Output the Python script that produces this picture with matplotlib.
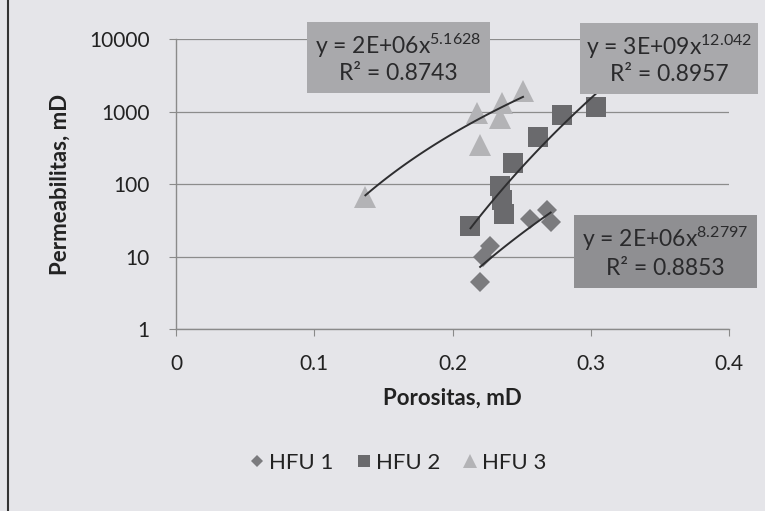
import matplotlib
matplotlib.use('Agg')
import matplotlib.pyplot as plt
from matplotlib.patches import Rectangle
from matplotlib.lines import Line2D
import numpy as np

plt.rcParams['font.family'] = ['Lato', 'DejaVu Sans']
plt.rcParams['mathtext.fontset'] = 'custom'
plt.rcParams['mathtext.rm'] = 'Lato'
plt.rcParams['mathtext.it'] = 'Lato:italic'
plt.rcParams['mathtext.bf'] = 'Lato:bold'

# ---- data ----
hfu1_x = [0.220, 0.222, 0.227, 0.256, 0.268, 0.271]
hfu1_y = [4.5, 9.8, 14.0, 33.0, 44.0, 30.0]
hfu2_x = [0.213, 0.2345, 0.236, 0.237, 0.244, 0.2615, 0.279, 0.304]
hfu2_y = [26.6, 94.0, 60.0, 38.0, 196.0, 450.0, 890.0, 1140.0]
hfu3_x = [0.137, 0.218, 0.220, 0.234, 0.2355, 0.251]
hfu3_y = [67.0, 950.0, 340.0, 805.0, 1320.0, 1940.0]

trend_coef = {'HFU 1': 2e6, 'HFU 2': 3e9, 'HFU 3': 2e6}
trend_exp = {'HFU 1': 8.2797, 'HFU 2': 12.042, 'HFU 3': 5.1628}
trend_r2 = {'HFU 1': '0.8853', 'HFU 2': '0.8957', 'HFU 3': '0.8743'}
trend_lbl_coef = {'HFU 1': '2E+06', 'HFU 2': '3E+09', 'HFU 3': '2E+06'}
trend_lbl_exp = {'HFU 1': '8.2797', 'HFU 2': '12.042', 'HFU 3': '5.1628'}

x_ticks = [0, 0.1, 0.2, 0.3, 0.4]
x_tick_labels = ['0', '0.1', '0.2', '0.3', '0.4']
y_ticks = [1, 10, 100, 1000, 10000]
y_tick_labels = ['1', '10', '100', '1000', '10000']

W, H = 765, 511
BG = '#e5e5e9'
fig = plt.figure(figsize=(W / 100, H / 100), dpi=100, facecolor=BG)

def fx(px):
    return px / W

def fy(py):
    return 1 - py / H

ax = fig.add_axes([fx(176), fy(329), (729 - 176) / W, (329 - 39) / H])
ax.set_facecolor(BG)
ax.patch.set_alpha(0)
ax.set_yscale('log')
ax.set_xlim(0, 0.4)
ax.set_ylim(1, 10000)
ax.set_xticks(x_ticks)
ax.set_xticklabels(x_tick_labels)
ax.set_yticks(y_ticks)
ax.set_yticklabels(y_tick_labels)
ax.minorticks_off()
ax.yaxis.set_minor_locator(matplotlib.ticker.NullLocator())
for s in ['top', 'right']:
    ax.spines[s].set_visible(False)
for s in ['left', 'bottom']:
    ax.spines[s].set_color('#8a8a8a')
    ax.spines[s].set_linewidth(1.0)
ax.grid(axis='y', color='#8c8c8c', linewidth=0.9)
ax.set_axisbelow(True)
ax.tick_params(axis='both', direction='out', length=5, color='#8a8a8a',
               labelsize=15, labelcolor='#222222')
ax.tick_params(axis='x', pad=13)
ax.tick_params(axis='y', pad=14)

series = [
    ('HFU 1', hfu1_x, hfu1_y, 'D', 10.5, '#7b7b7e'),
    ('HFU 2', hfu2_x, hfu2_y, 's', 14.5, '#6a6a6d'),
    ('HFU 3', hfu3_x, hfu3_y, '^', 16, '#b3b3b6'),
]
for name, xs, ys, mk, ms, col in series:
    ax.plot(xs, ys, linestyle='none', marker=mk, markersize=ms, color=col,
            markeredgewidth=0, zorder=3)
for name, xs, ys, mk, ms, col in series:
    xx = np.linspace(min(xs), max(xs), 100)
    yy = trend_coef[name] * xx ** trend_exp[name]
    ax.plot(xx, yy, color='#2e2e30', linewidth=1.4, zorder=4)

# equation boxes (pixel boxes)
boxes = {
    'HFU 3': ((307, 22, 490, 93), '#a9a9ac'),
    'HFU 2': ((580, 23, 758, 94), '#a9a9ac'),
    'HFU 1': ((574, 215, 757, 288), '#8f8f92'),
}
for name, ((x0, y0, x1, y1), fc) in boxes.items():
    fig.add_artist(Rectangle((fx(x0), fy(y1)), (x1 - x0) / W, (y1 - y0) / H,
                             transform=fig.transFigure, facecolor=fc,
                             edgecolor='none', zorder=5))
    cx = (x0 + x1) / 2
    h = y1 - y0
    fig.text(fx(cx), fy(y0 + h * 0.33),
             'y = ' + trend_lbl_coef[name] + r'x$^{' + trend_lbl_exp[name] + '}$',
             ha='center', va='center', fontsize=16.5, color='#2a2a2c', zorder=6)
    fig.text(fx(cx), fy(y0 + h * 0.73), 'R² = ' + trend_r2[name],
             ha='center', va='center', fontsize=16.5, color='#2a2a2c', zorder=6)

# axis titles
fig.text(fx(452), fy(398), 'Porositas, mD', ha='center', va='center',
         fontsize=16, fontweight='bold', color='#222222')
fig.text(fx(60), fy(184), 'Permeabilitas, mD', ha='center', va='center',
         rotation=90, fontsize=16, fontweight='bold', color='#222222')

# legend
handles = [Line2D([], [], linestyle='none', marker=mk, markersize=ms * 0.6,
                  color=col, markeredgewidth=0)
           for name, xs, ys, mk, ms, col in series]
labels = [s[0] for s in series]
fig.legend(handles, labels, loc='center', bbox_to_anchor=(fx(398), fy(463)),
           ncol=3, frameon=False, fontsize=16, handlelength=0.7,
           handletextpad=0.2, columnspacing=1.0, labelcolor='#222222')

# scan frame line on the left
fig.add_artist(Line2D([fx(8), fx(8)], [0, 1], transform=fig.transFigure,
                      color='#333333', linewidth=1.5))

fig.savefig('out.png', dpi=100, facecolor=BG)
